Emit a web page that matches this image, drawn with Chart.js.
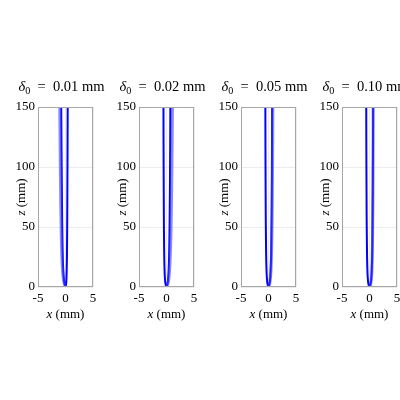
<!DOCTYPE html>
<html><head><meta charset="utf-8">
<script src="https://cdn.jsdelivr.net/npm/chart.js@4"></script>
<style>
html,body{margin:0;padding:0;background:#fff;width:400px;height:400px;overflow:hidden;position:relative}
.p{position:absolute;top:0;width:110px;height:400px}
</style>
</head><body>
<div class="p" style="left:0px"><canvas id="c0" width="110" height="400"></canvas></div>
<div class="p" style="left:101px"><canvas id="c1" width="110" height="400"></canvas></div>
<div class="p" style="left:203px"><canvas id="c2" width="110" height="400"></canvas></div>
<div class="p" style="left:304px"><canvas id="c3" width="110" height="400"></canvas></div>
<script>
const delta0Labels = ['0.01', '0.02', '0.05', '0.10'];
const xTickValues = [-5, 0, 5];
const zTickValues = [0, 50, 100, 150];
const zLevels = [0, 3, 8, 15, 25, 40, 60, 80, 100, 125, 150];

// panel 1 (delta0 = 0.01 mm)
const p1Left  = [0, -0.18, -0.32, -0.42, -0.5, -0.56, -0.62, -0.66, -0.7, -0.74, -0.78];
const p1Right = [0, 0.12, 0.18, 0.22, 0.26, 0.29, 0.32, 0.34, 0.36, 0.38, 0.4];
const p1Extra = [0, -0.25, -0.42, -0.55, -0.66, -0.75, -0.83, -0.89, -0.94, -0.99, -1.04];
// panel 2 (delta0 = 0.02 mm)
const p2Left  = [0, -0.2, -0.3, -0.36, -0.41, -0.45, -0.48, -0.5, -0.52, -0.54, -0.55];
const p2Right = [0, 0.2, 0.32, 0.4, 0.47, 0.53, 0.58, 0.62, 0.65, 0.68, 0.7];
const p2Extra = [0, 0.28, 0.45, 0.57, 0.68, 0.78, 0.87, 0.93, 0.98, 1.03, 1.08];
// panel 3 (delta0 = 0.05 mm)
const p3Left  = [0, -0.2, -0.3, -0.37, -0.42, -0.46, -0.5, -0.52, -0.54, -0.56, -0.57];
const p3Right = [0, 0.2, 0.32, 0.4, 0.47, 0.52, 0.57, 0.6, 0.62, 0.64, 0.66];
const p3Extra = [0, 0.22, 0.36, 0.46, 0.54, 0.6, 0.66, 0.7, 0.73, 0.76, 0.78];
// panel 4 (delta0 = 0.10 mm)
const p4Left  = [0, -0.22, -0.32, -0.39, -0.44, -0.48, -0.52, -0.54, -0.56, -0.58, -0.59];
const p4Right = [0, 0.22, 0.34, 0.42, 0.48, 0.53, 0.57, 0.6, 0.62, 0.64, 0.65];
const p4Extra = [0, 0.23, 0.36, 0.44, 0.5, 0.55, 0.59, 0.62, 0.64, 0.66, 0.67];

const panels = [
  {left: p1Left, right: p1Right, extra: p1Extra},
  {left: p2Left, right: p2Right, extra: p2Extra},
  {left: p3Left, right: p3Right, extra: p3Extra},
  {left: p4Left, right: p4Right, extra: p4Extra}
];

const FONT = "'Liberation Serif', 'Times New Roman', serif";

function drawRich(ctx, segs, x, y, size) {
  let widths = segs.map(s => {
    ctx.font = (s.it ? 'italic ' : '') + (s.sub ? size * 0.7 : size) + 'px ' + FONT;
    return ctx.measureText(s.t).width;
  });
  let total = widths.reduce((a, b) => a + b, 0);
  let cx = x - total / 2;
  ctx.textAlign = 'left';
  ctx.textBaseline = 'alphabetic';
  segs.forEach((s, i) => {
    ctx.font = (s.it ? 'italic ' : '') + (s.sub ? size * 0.7 : size) + 'px ' + FONT;
    ctx.fillText(s.t, cx, y + (s.sub ? size * 0.22 : 0));
    cx += widths[i];
  });
}

function branchPoints(arr) {
  return zLevels.map((z, i) => ({x: arr[i], y: z}));
}
function uPoints(left, right) {
  const l = branchPoints(left).reverse();
  const r = branchPoints(right).slice(1);
  return l.concat(r);
}

panels.forEach((p, idx) => {
  const extraPlugin = {
    id: 'decor' + idx,
    beforeDatasetsDraw(chart) {
      const {ctx, chartArea: a} = chart;
      ctx.save();
      ctx.fillStyle = '#000';
      drawRich(ctx, [{t: 'δ', it: true}, {t: '0', sub: true}, {t: '  =  ' + delta0Labels[idx] + ' mm'}],
        (a.left + a.right) / 2 - 4, 91, 14.5);
      drawRich(ctx, [{t: 'x', it: true}, {t: ' (mm)'}], (a.left + a.right) / 2, 318, 13);
      ctx.translate(25, (a.top + a.bottom) / 2);
      ctx.rotate(-Math.PI / 2);
      drawRich(ctx, [{t: 'z', it: true}, {t: ' (mm)'}], 0, 0, 13);
      ctx.restore();
    },
    afterDatasetsDraw(chart) {
      const {ctx, chartArea: a} = chart;
      ctx.save();
      ctx.strokeStyle = '#a6a6a6';
      ctx.lineWidth = 1;
      ctx.strokeRect(Math.round(a.left) + 0.5, Math.round(a.top) + 0.5,
        Math.round(a.right - a.left) - 1, Math.round(a.bottom - a.top) - 1);
      ctx.restore();
    }
  };
  new Chart(document.getElementById('c' + idx), {
    type: 'scatter',
    data: {
      datasets: [
        {
          data: branchPoints(p.extra),
          showLine: true,
          borderColor: 'rgba(60,60,255,0.6)',
          borderWidth: 3,
          pointRadius: 0,
          tension: 0.3
        },
        {
          data: uPoints(p.left, p.right),
          showLine: true,
          borderColor: '#0000ff',
          borderWidth: 2,
          pointRadius: 0,
          tension: 0.3
        }
      ]
    },
    options: {
      responsive: false,
      animation: false,
      events: [],
      layout: {padding: {top: 107, right: 17, left: 0, bottom: 0}},
      plugins: {legend: {display: false}, tooltip: {enabled: false}, title: {display: false}},
      scales: {
        x: {
          type: 'linear', min: -5, max: 5,
          afterBuildTicks(s) { s.ticks = xTickValues.map(v => ({value: v})); },
          afterFit(s) { s.height = 113; },
          grid: {color: '#ececec', drawTicks: false, drawOnChartArea: true},
          border: {display: false},
          ticks: {color: '#000', padding: 4, font: {family: FONT, size: 13}, maxRotation: 0,
                  callback: v => String(v)}
        },
        y: {
          type: 'linear', min: 0, max: 150,
          afterBuildTicks(s) { s.ticks = zTickValues.map(v => ({value: v})); },
          afterFit(s) { s.width = 38; },
          grid: {color: '#ececec', drawTicks: false},
          border: {display: false},
          ticks: {color: '#000', padding: 3, font: {family: FONT, size: 13},
                  callback: v => String(v)}
        }
      }
    },
    plugins: [extraPlugin]
  });
});
</script>
</body></html>
